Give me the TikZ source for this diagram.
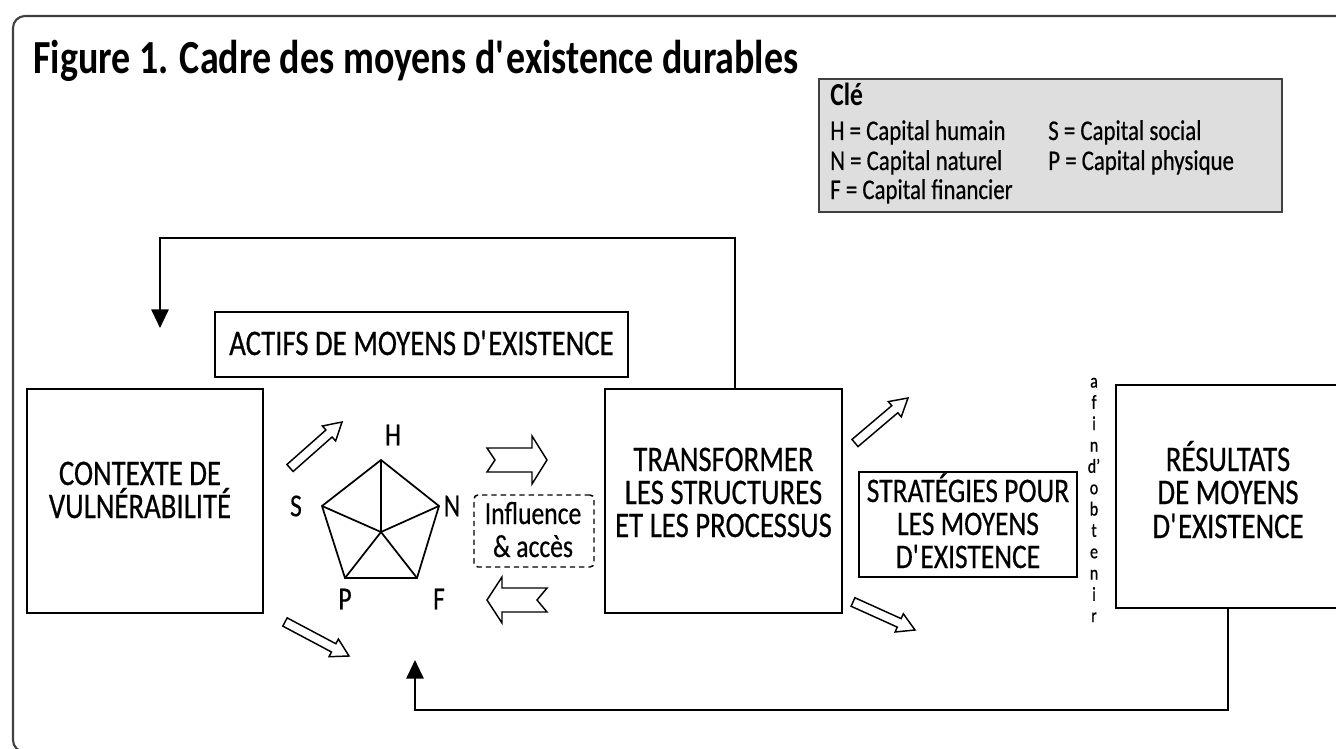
\documentclass[tikz,border=0pt]{standalone}
\usepackage{fontspec}
\setmainfont{Carlito}[FakeStretch=0.8, UprightFeatures={FakeBold=0.5}]
\usetikzlibrary{calc,arrows.meta}
\definecolor{keyfill}{HTML}{DEDEDE}
\definecolor{framecol}{HTML}{404040}
\newcommand{\blockarrow}[6]{%
  \coordinate (#1-t) at #2;
  \coordinate (#1-h) at #3;
  \coordinate (#1-b) at ($(#1-h)!#6!(#1-t)$);
  \draw[hollow] ($(#1-t)!#4!90:(#1-h)$) -- ($(#1-b)!#4!-90:(#1-t)$) -- ($(#1-b)!#5!-90:(#1-t)$) -- (#1-h) -- ($(#1-b)!#5!90:(#1-t)$) -- ($(#1-b)!#4!90:(#1-t)$) -- ($(#1-t)!#4!-90:(#1-h)$) -- cycle;}
\begin{document}
\begin{tikzpicture}[x=0.75pt,y=-0.75pt,
  box/.style={draw=black, line width=1.5pt, inner sep=0pt},
  lbl/.style={font=\fontsize{27pt}{30pt}\selectfont, inner sep=0pt, anchor=base},
  keytxt/.style={font=\fontsize{21.4pt}{23pt}\selectfont, inner sep=0pt, anchor=base west},
  vx/.style={font=\fontsize{24pt}{26pt}\selectfont, inner sep=0pt},
  conn/.style={line width=1.5pt},
  hollow/.style={draw=black, line width=1.1pt, fill=white, line join=miter},
  tip/.style={-{Triangle[length=14pt,width=13pt]}}]
\useasboundingbox (0,0) rectangle (1336,749);
% frame
\draw[framecol, line width=1.6pt, rounded corners=9pt] (13,16) rectangle (1360,752);
% title
\node[font=\bfseries\fontsize{35.6pt}{38pt}\selectfont, inner sep=0pt, anchor=base west] (title) at (33,74) {Figure 1. Cadre des moyens d\textquotesingle existence durables};
% key
\node[box, draw=framecol, line width=1.8pt, fill=keyfill, minimum width=347.25pt, minimum height=99.75pt] (key) at (1050.5,145.5) {};
\node[font=\bfseries\fontsize{24pt}{27pt}\selectfont, inner sep=0pt, anchor=base west] (cle) at (830,106) {Clé};
\node[keytxt] (kH) at (830,140) {H = Capital humain};
\node[keytxt] (kN) at (830,170) {N = Capital naturel};
\node[keytxt] (kF) at (830,199) {F = Capital financier};
\node[keytxt] (kS) at (1048,140) {S = Capital social};
\node[keytxt] (kP) at (1048,170) {P = Capital physique};
% boxes
\node[box, minimum width=177pt, minimum height=168pt] (ctx) at (145,501) {};
\node[box, minimum width=309.75pt, minimum height=48.75pt] (actifs) at (421.5,344.5) {};
\node[box, minimum width=177.75pt, minimum height=168pt] (trans) at (723.5,501) {};
\node[box, minimum width=163.5pt, minimum height=78.75pt] (strat) at (968,524.5) {};
\node[box, minimum width=168pt, minimum height=167.25pt] (res) at (1228,496.5) {};
\node[draw=black, line width=1.1pt, dash pattern=on 4pt off 3pt, rounded corners=3pt, inner sep=0pt, minimum width=90pt, minimum height=54pt] (infl) at (534,531) {};
% box texts
\node[lbl] (tA) at (421.5,355) {ACTIFS DE MOYENS D\textquotesingle EXISTENCE};
\node[lbl] (tC1) at (140,485) {CONTEXTE DE};
\node[lbl] (tC2) at (140,518) {VULNÉRABILITÉ};
\node[lbl] (tT1) at (723.5,471) {TRANSFORMER};
\node[lbl] (tT2) at (723.5,504) {LES STRUCTURES};
\node[lbl] (tT3) at (723.5,537) {ET LES PROCESSUS};
\node[lbl, font=\fontsize{25.8pt}{28pt}\selectfont] (tS1) at (968,502) {STRATÉGIES POUR};
\node[lbl, font=\fontsize{25.8pt}{28pt}\selectfont] (tS2) at (968,535) {LES MOYENS};
\node[lbl, font=\fontsize{25.8pt}{28pt}\selectfont] (tS3) at (968,568) {D\textquotesingle EXISTENCE};
\node[lbl] (tR1) at (1228,471) {RÉSULTATS};
\node[lbl] (tR2) at (1228,504) {DE MOYENS};
\node[lbl] (tR3) at (1228,538) {D\textquotesingle EXISTENCE};
\node[lbl, font=\fontsize{24pt}{26pt}\selectfont] (tI1) at (533,524) {Influence};
\node[lbl, font=\fontsize{24pt}{26pt}\selectfont] (tI2) at (533,557) {\& accès};
\node[font=\fontsize{15pt}{16pt}\selectfont, align=center, inner sep=0pt] (afin) at (1094,500) {a\\f\\i\\n\\d’\\o\\b\\t\\e\\n\\i\\r};
% pentagon
\coordinate (pH) at (381,460);
\coordinate (pN) at (439,506);
\coordinate (pF) at (417,578);
\coordinate (pP) at (345,578);
\coordinate (pS) at (322,506);
\coordinate (pC) at (381,532);
\draw[line width=1.3pt, line join=miter] (pH) -- (pN) -- (pF) -- (pP) -- (pS) -- cycle;
\foreach \v in {pH,pN,pF,pP,pS} \draw[line width=1.3pt] (pC) -- (\v);
\node[vx] (lH) at (393,435) {H};
\node[vx] (lS) at (296,506) {S};
\node[vx] (lN) at (452,506) {N};
\node[vx] (lP) at (345,599) {P};
\node[vx] (lF) at (439,599) {F};
% hollow arrows
\blockarrow{a1}{(290,468)}{(342,422)}{3.5pt}{7.5pt}{13pt}
\blockarrow{a2}{(285,622)}{(349,656)}{3.5pt}{7.5pt}{13pt}
\blockarrow{a3}{(855,443)}{(908,398)}{3.5pt}{7.5pt}{13pt}
\blockarrow{a4}{(853,602)}{(915,630)}{3.5pt}{7.5pt}{13pt}
\draw[hollow] (487,448) -- (532,448) -- (532,436) -- (547,460) -- (532,484) -- (532,472) -- (487,472) -- (495,460) -- cycle;
\draw[hollow] (487,600) -- (502,577) -- (502,588) -- (547,588) -- (537,600) -- (547,612) -- (502,612) -- (502,623) -- cycle;
% feedback connectors
\coordinate (fb1c) at (160,238);
\coordinate (fb1t) at (160,328);
\draw[conn, tip] ([xshift=8.6pt]trans.north) |- (fb1c) -- (fb1t);
\coordinate (fb2c) at (415,710);
\coordinate (fb2t) at (415,660);
\draw[conn, tip] (res.south) |- (fb2c) -- (fb2t);
\end{tikzpicture}
\end{document}
